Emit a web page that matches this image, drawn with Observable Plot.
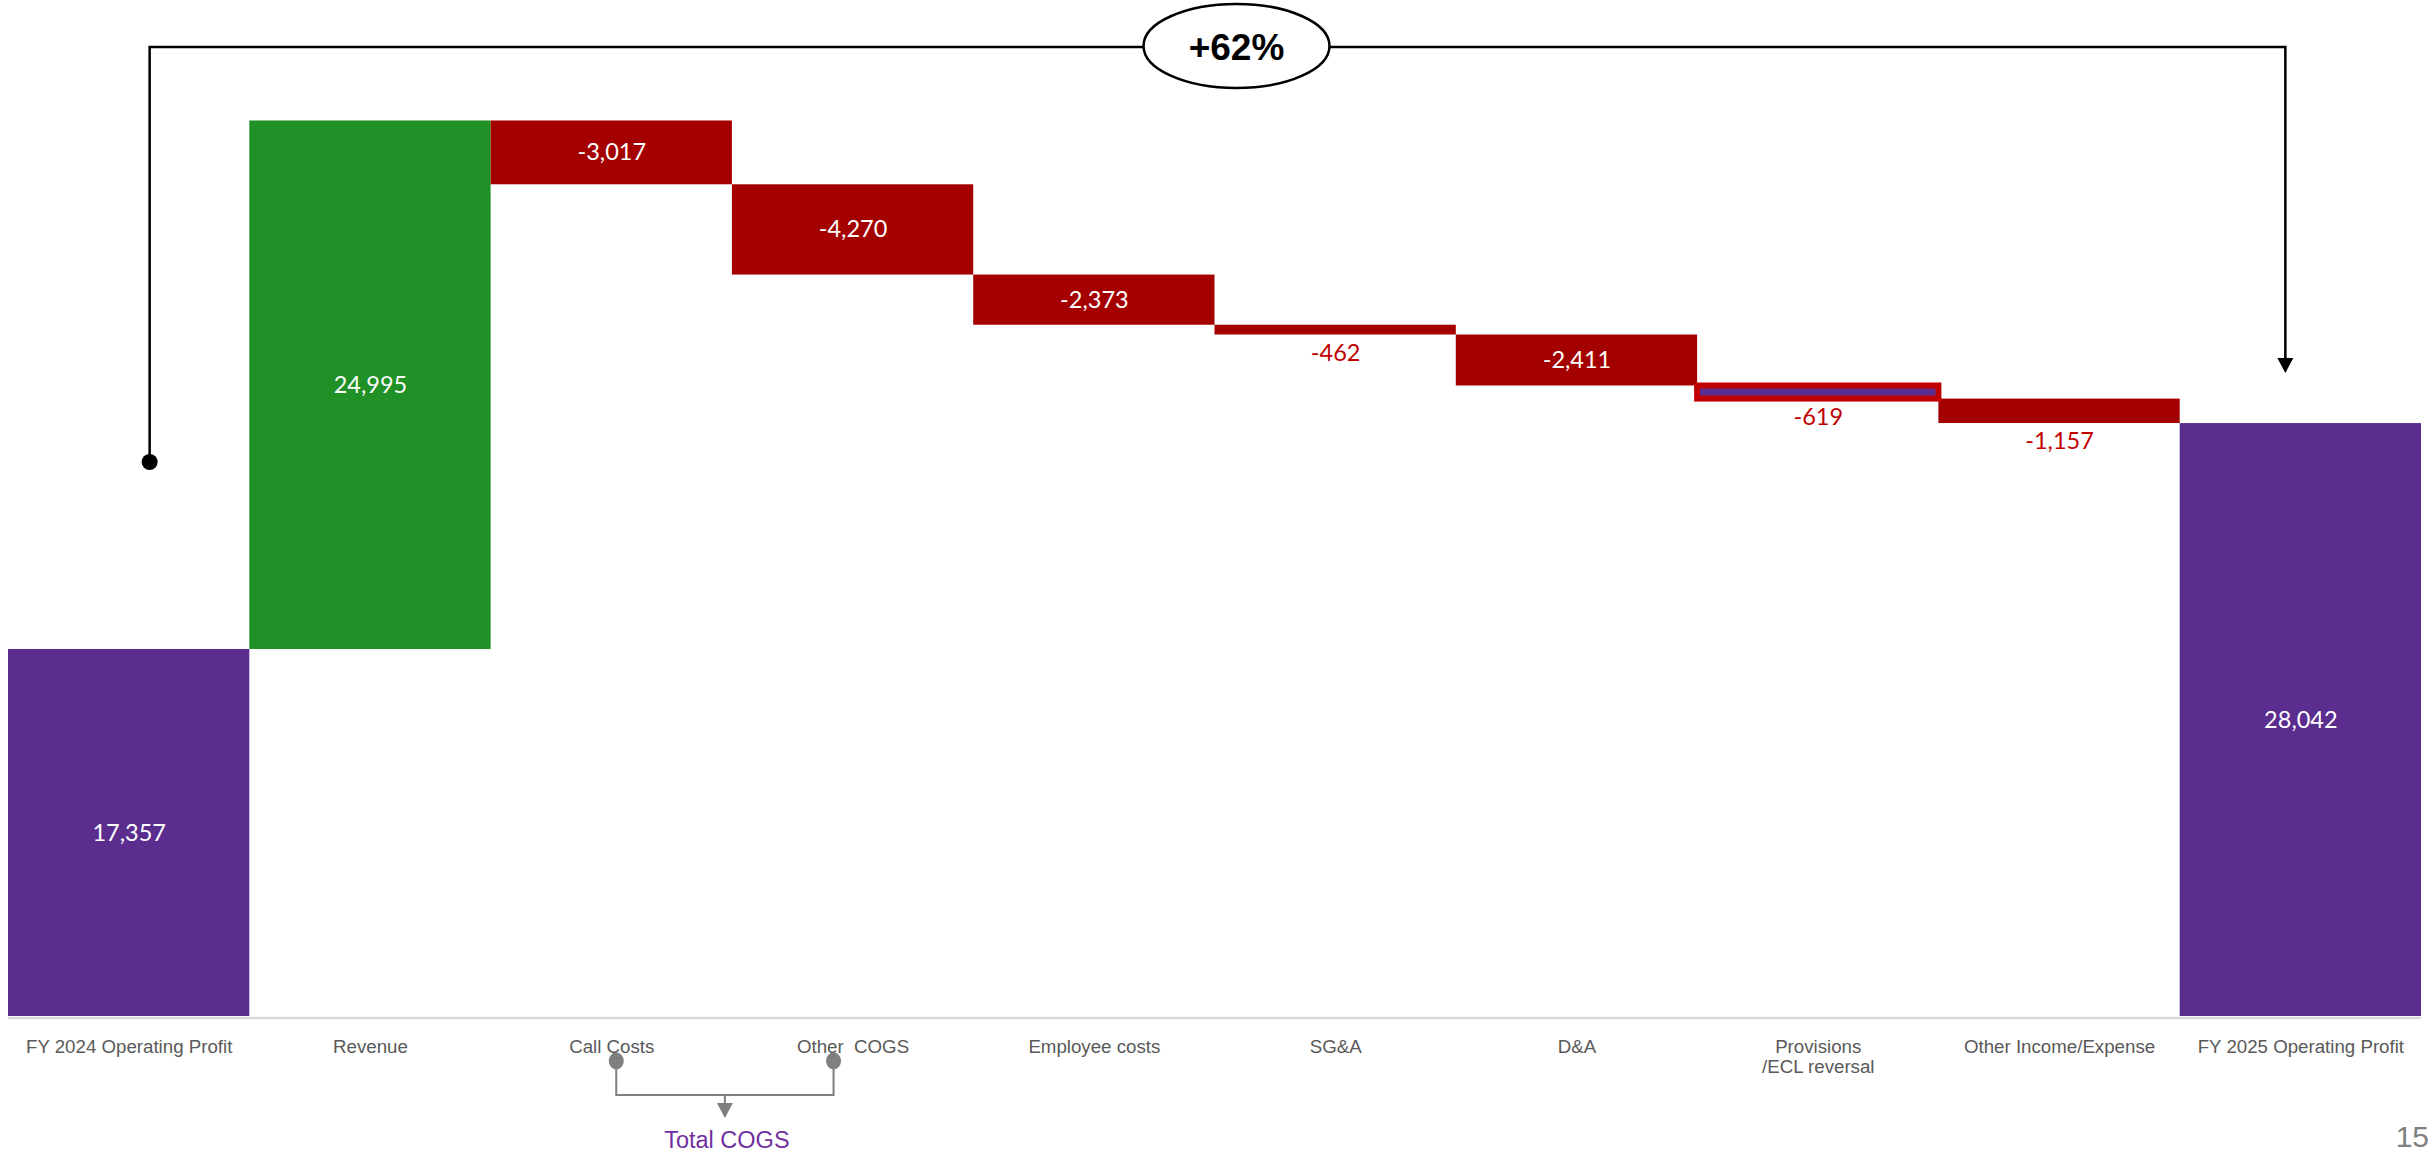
<!DOCTYPE html>
<html>
<head>
<meta charset="utf-8">
<script src="https://cdn.jsdelivr.net/npm/d3@7"></script>
<script src="https://cdn.jsdelivr.net/npm/@observablehq/plot@0.6"></script>
<style>
  html, body { margin: 0; padding: 0; background: #fff; overflow: hidden; }
  #chart svg { display: block; }
  #chart svg text { white-space: pre; }
</style>
</head>
<body>
<div id="chart"></div>
<script>
// ---- data ----
const categories = [
  "FY 2024 Operating Profit", "Revenue", "Call Costs", "Other  COGS", "Employee costs",
  "SG&A", "D&A", "Provisions\n/ECL reversal", "Other Income/Expense", "FY 2025 Operating Profit"
];
const values = [17357, 24995, -3017, -4270, -2373, -462, -2411, -619, -1157, 28042];
const kinds = ["total", "increase", "decrease", "decrease", "decrease", "decrease", "decrease", "highlight", "decrease", "total"];
const cogsItems = ["Call Costs", "Other  COGS"];
const cogsLabel = "Total COGS";
const bracketLevels = [26200, 45830, 30410]; // start dot, top line, arrow tip (data units)
const pageNumber = "15";

// ---- styles ----
const colorOf = {total: "#5B2D8F", increase: "#1F9127", decrease: "#A50000", highlight: "#5B2D8F"};
const fmt = v => v.toLocaleString("en-US");
const valueFont = "Lato, 'Open Sans', sans-serif";
const axisFont = "'Liberation Sans', Arial, sans-serif";

// ---- waterfall rows ----
let run = 0;
const rows = categories.map((c, i) => {
  const v = values[i];
  let a, b;
  if (kinds[i] === "total") { a = 0; b = v; run = v; }
  else { a = run; b = run + v; run = b; }
  return {cat: c, value: v, kind: kinds[i], lo: Math.min(a, b), hi: Math.max(a, b)};
});
const isInside = d => d.kind !== "highlight" && d.hi - d.lo >= 1500;
const inside = rows.filter(isInside);
const outside = rows.filter(d => !isInside(d));

const W = 2433, H = 1152;
const plot = Plot.plot({
  width: W, height: H,
  marginLeft: 8, marginRight: 12, marginTop: 0, marginBottom: 136,
  x: {domain: categories, padding: 0, round: false, axis: null},
  y: {domain: [0, 48050], axis: null},
  color: {type: "identity"},
  style: {background: "white", fontFamily: axisFont},
  marks: [
    Plot.ruleY([0], {stroke: "#D9D9D9", strokeWidth: 2.5, dy: 1.5}),
    Plot.barY(rows.filter(d => d.kind !== "highlight"), {x: "cat", y1: "lo", y2: "hi", fill: d => colorOf[d.kind]}),
    Plot.barY(rows.filter(d => d.kind === "highlight"), {x: "cat", y1: "lo", y2: "hi", fill: colorOf.highlight, stroke: "#C00000", strokeWidth: 6}),
    Plot.text(inside, {x: "cat", y: d => (d.lo + d.hi) / 2, text: d => fmt(d.value), fill: "white", fontSize: 23.5, fontFamily: valueFont}),
    Plot.text(outside, {x: "cat", y: "lo", dy: 18, text: d => fmt(d.value), fill: "#C00000", fontSize: 23.5, fontFamily: valueFont}),
    Plot.text(rows, {x: "cat", y: () => 0, text: "cat", lineAnchor: "top", dy: 22, lineHeight: 1.07, fill: "#595959", fontSize: 18.7, fontFamily: axisFont})
  ]
});
document.getElementById("chart").appendChild(plot);

// ---- annotations drawn with Plot's scales ----
const svg = d3.select(plot);
svg.selectAll("text").each(function () {
  this.setAttributeNS("http://www.w3.org/XML/1998/namespace", "xml:space", "preserve");
});
const xs = plot.scale("x"), ys = plot.scale("y");
const cx = c => xs.apply(c) + xs.bandwidth / 2;

// growth bracket
const X0 = cx(categories[0]) + 21;
const X1 = cx(categories[categories.length - 1]) - 15;
const yS = ys.apply(bracketLevels[0]), yT = ys.apply(bracketLevels[1]), yE = ys.apply(bracketLevels[2]);
const g = svg.append("g");
g.append("path")
  .attr("d", `M${X0},${yS}V${yT}H${X1}V${yE - 14}`)
  .attr("fill", "none").attr("stroke", "black").attr("stroke-width", 2.5);
g.append("circle").attr("cx", X0).attr("cy", yS).attr("r", 8).attr("fill", "black");
g.append("path")
  .attr("d", `M${X1 - 8},${yE - 15}L${X1 + 8},${yE - 15}L${X1},${yE}Z`).attr("fill", "black");
const growth = Math.round((values[values.length - 1] / values[0] - 1) * 100);
const ex = (X0 + X1) / 2 + 19;
g.append("ellipse").attr("cx", ex).attr("cy", yT - 1).attr("rx", 93).attr("ry", 42)
  .attr("fill", "white").attr("stroke", "black").attr("stroke-width", 2.5);
g.append("text").attr("x", ex).attr("y", yT + 13.5).attr("text-anchor", "middle")
  .attr("font-family", axisFont).attr("font-weight", "bold").attr("font-size", 37).attr("fill", "black")
  .text((growth >= 0 ? "+" : "") + growth + "%");

// Total COGS bracket under the axis
const base = ys.apply(0);
const dA = cx(cogsItems[0]) + 5, dB = cx(cogsItems[1]) - 19;
const mid = (dA + dB) / 2;
const c2 = svg.append("g");
c2.append("path")
  .attr("d", `M${dA},${base + 46}V${base + 79}H${dB}V${base + 46}M${mid},${base + 79}V${base + 88}`)
  .attr("fill", "none").attr("stroke", "#7F7F7F").attr("stroke-width", 2);
c2.append("path")
  .attr("d", `M${mid - 8},${base + 87}L${mid + 8},${base + 87}L${mid},${base + 102}Z`).attr("fill", "#7F7F7F");
[dA, dB].forEach(x => c2.append("ellipse").attr("cx", x).attr("cy", base + 45).attr("rx", 7.5).attr("ry", 8.5).attr("fill", "#7F7F7F"));
c2.append("text").attr("x", mid + 2).attr("y", base + 132).attr("text-anchor", "middle")
  .attr("font-family", axisFont).attr("font-size", 23.5).attr("fill", "#7030A0").text(cogsLabel);

// page number
svg.append("text").attr("x", W - 4).attr("y", H - 5).attr("text-anchor", "end").attr("font-family", axisFont)
  .attr("font-size", 30).attr("fill", "#7F7F7F").text(pageNumber);
</script>
</body>
</html>
